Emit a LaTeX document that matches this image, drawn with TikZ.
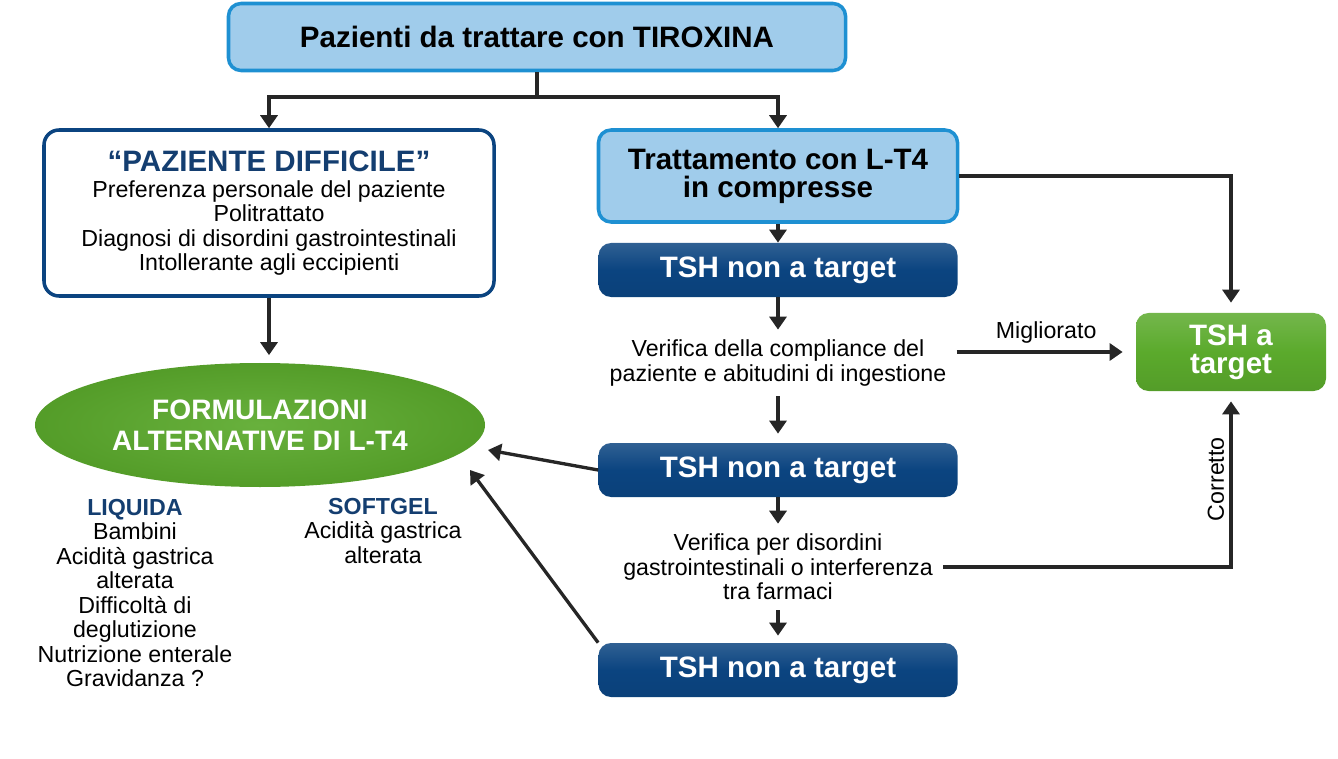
\documentclass[tikz,border=0pt]{standalone}
\usepackage{fontspec}
\setmainfont{Liberation Sans}
\usepackage{tikz}
\usetikzlibrary{shapes,positioning,calc,arrows.meta}
\definecolor{skyfill}{RGB}{160,204,235}
\definecolor{skyline}{RGB}{30,144,210}
\definecolor{navyblu}{RGB}{11,68,128}
\definecolor{navytext}{RGB}{20,62,112}
\definecolor{grn}{RGB}{91,170,44}

\begin{document}
\begin{tikzpicture}[x=0.2mm, y=-0.2mm,
  every node/.style={font=\fontsize{13.2}{13.9}\selectfont, align=center, inner sep=1pt},
  lightbox/.style={rectangle, rounded corners=2.5mm, draw=skyline, line width=2pt, fill=skyfill, font=\fontsize{16.8}{16}\selectfont\bfseries},
  whitebox/.style={rectangle, rounded corners=3mm, draw=navyblu, line width=2pt, fill=white, minimum width=90mm, minimum height=33.2mm},
  darkbox/.style={rectangle, rounded corners=2.5mm, top color=navyblu!85!white, bottom color=navyblu!95!black, middle color=navyblu, minimum width=71.8mm, minimum height=10.8mm, text=white, font=\fontsize{16.8}{16}\selectfont\bfseries},
  greenbox/.style={rectangle, rounded corners=2.5mm, top color=grn!85!white, bottom color=grn!92!black, middle color=grn, minimum width=38mm, minimum height=15.6mm, text=white, font=\fontsize{16.8}{16}\selectfont\bfseries},
  greenell/.style={ellipse, inner color=grn!92!white, outer color=grn!92!black, minimum width=90mm, minimum height=24.8mm, inner sep=0pt, text=white, font=\fontsize{16}{17.6}\selectfont\bfseries},
  stepnote/.style={inner sep=2mm},
  arr/.style={-{Triangle[length=2.6mm,width=3.4mm]}, line width=1.9pt, draw=black!85}]

\useasboundingbox (0,0) rectangle (1338,759);

% BOXES

\node [lightbox, minimum width=123.4mm, minimum height=13.4mm] (paz) at (537,37) {Pazienti da trattare con TIROXINA};

\node [whitebox] (diff) at (269,213)
{{\color{navytext}\fontsize{16.8}{17}\selectfont\bfseries “PAZIENTE DIFFICILE”}\\[1pt]
Preferenza personale del paziente\\
Politrattato\\
Diagnosi di disordini gastrointestinali\\
Intollerante agli eccipienti};

\node [lightbox, minimum width=71.8mm, minimum height=18.4mm] (tratt) at (778,176) {Trattamento con L-T4\\in compresse};
\node [darkbox] (tsh1) at (778,270) {TSH non a target};
\node [stepnote] (ver1) at (778,363) {Verifica della compliance del\\paziente e abitudini di ingestione};
\node [darkbox] (tsh2) at (778,470) {TSH non a target};
\node [stepnote] (ver2) at (778,567) {Verifica per disordini\\gastrointestinali o interferenza\\tra farmaci};
\node [darkbox] (tsh3) at (778,670) {TSH non a target};

\node [greenbox] (tsha) at (1231,352) {TSH a\\target};

\node [greenell] (form) at (260,425) {FORMULAZIONI\\ALTERNATIVE DI L-T4};

\node (liq) at (135,593)
{{\color{navytext}\bfseries LIQUIDA}\\
Bambini\\
Acidità gastrica\\
alterata\\
Difficoltà di\\
deglutizione\\
Nutrizione enterale\\
Gravidanza ?};

\node (soft) at (383,531)
{{\color{navytext}\bfseries SOFTGEL}\\
Acidità gastrica\\
alterata};

% CONNECTORS

\coordinate (split) at (537,97);
\coordinate (in1) at (488,450);
\coordinate (in2) at (470,470);

\draw [arr] (paz.south) -- (split) -| (diff.north);
\draw [arr] (split) -| (tratt.north);
\draw [arr, shorten >=1.5mm] (diff.south) -- (diff.south |- form.north);
\draw [arr] (tratt.south) -- (tsh1.north);
\draw [arr] (tsh1.south) -- (ver1.north);
\draw [arr, shorten >=1.8mm] (ver1.south) -- (tsh2.north);
\draw [arr] (tsh2.south) -- (ver2.north);
\draw [arr, shorten >=1.4mm] (ver2.south) -- (tsh3.north);

\draw [arr, shorten >=2mm] (tratt.east) -| (tsha.north);
\draw [arr, shorten >=2.6mm] (ver1.east |- tsha.west) -- node[above=3pt] {Migliorato} (tsha.west);
\draw [arr, shorten >=2mm] (ver2.east) -| node[pos=0.75, above=2pt, sloped] {Corretto} (tsha.south);

\draw [arr] (tsh2.west) -- (in1);
\draw [arr] (tsh3.north west) -- (in2);

\end{tikzpicture}
\end{document}
